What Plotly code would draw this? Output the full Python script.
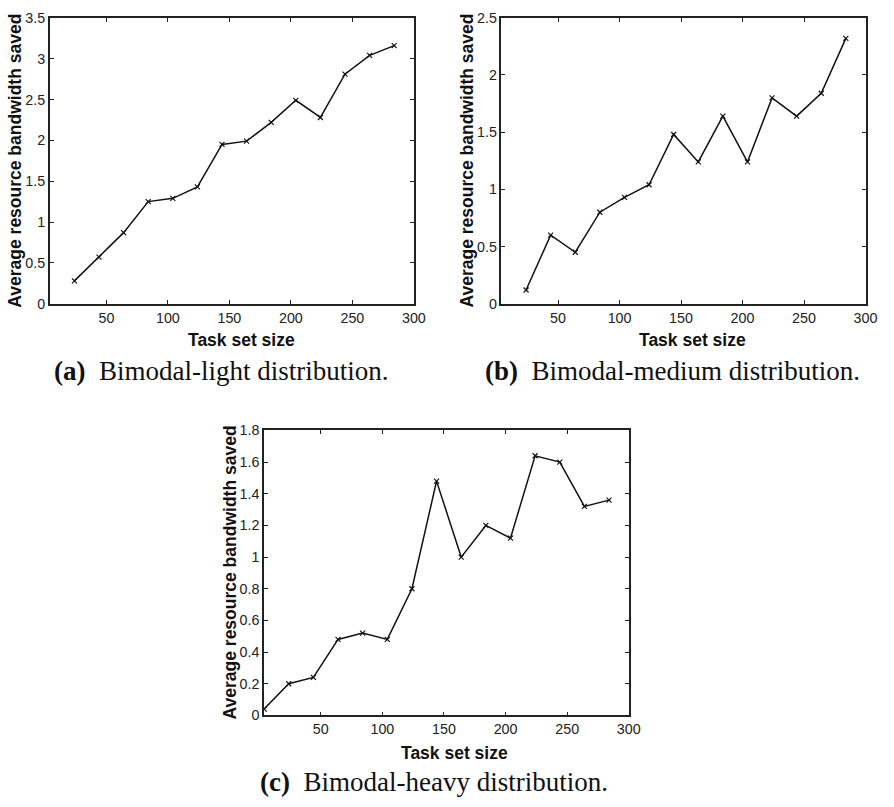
import plotly.graph_objects as go

W, H = 894, 807

# ---- data ----
x_ab = [24, 44, 64, 84, 104, 124, 144, 164, 184, 204, 224, 244, 264, 284]
light = [0.28, 0.57, 0.87, 1.25, 1.29, 1.43, 1.95, 1.99, 2.22, 2.49, 2.28, 2.81, 3.04, 3.16]
medium = [0.12, 0.60, 0.45, 0.80, 0.93, 1.04, 1.48, 1.24, 1.64, 1.24, 1.80, 1.64, 1.84, 2.32]
x_c = [4, 24, 44, 64, 84, 104, 124, 144, 164, 184, 204, 224, 244, 264, 284]
heavy = [0.04, 0.20, 0.24, 0.48, 0.52, 0.48, 0.80, 1.48, 1.00, 1.20, 1.12, 1.64, 1.60, 1.32, 1.36]

x_ticks = [50, 100, 150, 200, 250, 300]
y_ticks_a = [0, 0.5, 1, 1.5, 2, 2.5, 3, 3.5]
y_ticks_b = [0, 0.5, 1, 1.5, 2, 2.5]
y_ticks_c = [0, 0.2, 0.4, 0.6, 0.8, 1, 1.2, 1.4, 1.6, 1.8]

x_title = "Task set size"
y_title = "Average resource bandwidth saved"
captions = ["<b>(a)</b>  Bimodal-light distribution.",
            "<b>(b)</b>  Bimodal-medium distribution.",
            "<b>(c)</b>  Bimodal-heavy distribution."]

# ---- layout helpers (pixel -> paper) ----
def px(x):
    return x / W

def py(y):
    return 1 - y / H

panels = [
    ("", 50.5, 419.5, 10, 301.7, [0, 3.5], y_ticks_a, x_ab, light),
    ("2", 508.3, 877.3, 10, 301.7, [0, 2.5], y_ticks_b, x_ab, medium),
    ("3", 267.7, 637.3, 431, 721.7, [0, 1.8], y_ticks_c, x_c, heavy),
]

fig = go.Figure()
tickfont = dict(family="Liberation Sans, Arial, sans-serif", size=14.3, color="#222")

def fmt(v):
    return "%g" % v

for name, x0, x1, yt, yb, yr, yt_vals, xd, yd in panels:
    fig.add_trace(go.Scatter(
        x=xd, y=yd, mode="lines+markers",
        line=dict(color="#111", width=1.5),
        marker=dict(symbol="x-thin", size=5, line=dict(color="#111", width=1.2)),
        xaxis="x" + name, yaxis="y" + name, showlegend=False,
    ))
    common = dict(showline=True, linecolor="#222", linewidth=1.5, mirror="allticks",
                  ticks="inside", ticklen=4, tickwidth=1, tickcolor="#222",
                  showgrid=False, zeroline=False, tickfont=tickfont)
    fig.update_layout(**{
        "xaxis" + name: dict(domain=[px(x0), px(x1)], range=[4, 300],
                             tickvals=x_ticks, ticktext=[fmt(v) for v in x_ticks],
                             anchor="y" + name, **common),
        "yaxis" + name: dict(domain=[py(yb), py(yt)], range=yr,
                             tickvals=yt_vals, ticktext=[fmt(v) for v in yt_vals],
                             anchor="x" + name, **common),
    })

annotations = []
titlefont = dict(family="Liberation Sans, Arial, sans-serif", size=17.5, color="#111")
for cx, cy in [(245, 339), (702, 339), (461, 760)]:
    annotations.append(dict(text="<b>%s</b>" % x_title, x=px(cx), y=py(cy), xref="paper", yref="paper",
                            xanchor="center", yanchor="middle", showarrow=False, font=titlefont))
for cx, cy in [(15, 156), (473, 156), (233, 576)]:
    annotations.append(dict(text="<b>%s</b>" % y_title, x=px(cx), y=py(cy), xref="paper", yref="paper",
                            xanchor="center", yanchor="middle", showarrow=False, textangle=-90,
                            font=titlefont))
capfont = dict(family="Liberation Serif, Times New Roman, serif", size=27, color="#111")
for txt, lx, cy in zip(captions, [53, 490, 262], [370, 370, 790]):
    annotations.append(dict(text=txt, x=px(lx), y=py(cy), xref="paper", yref="paper",
                            xanchor="left", yanchor="middle", showarrow=False, font=capfont))

fig.update_layout(width=W, height=H, margin=dict(l=0, r=0, t=0, b=0),
                  paper_bgcolor="white", plot_bgcolor="white", annotations=annotations)

fig.write_html("out.html")
